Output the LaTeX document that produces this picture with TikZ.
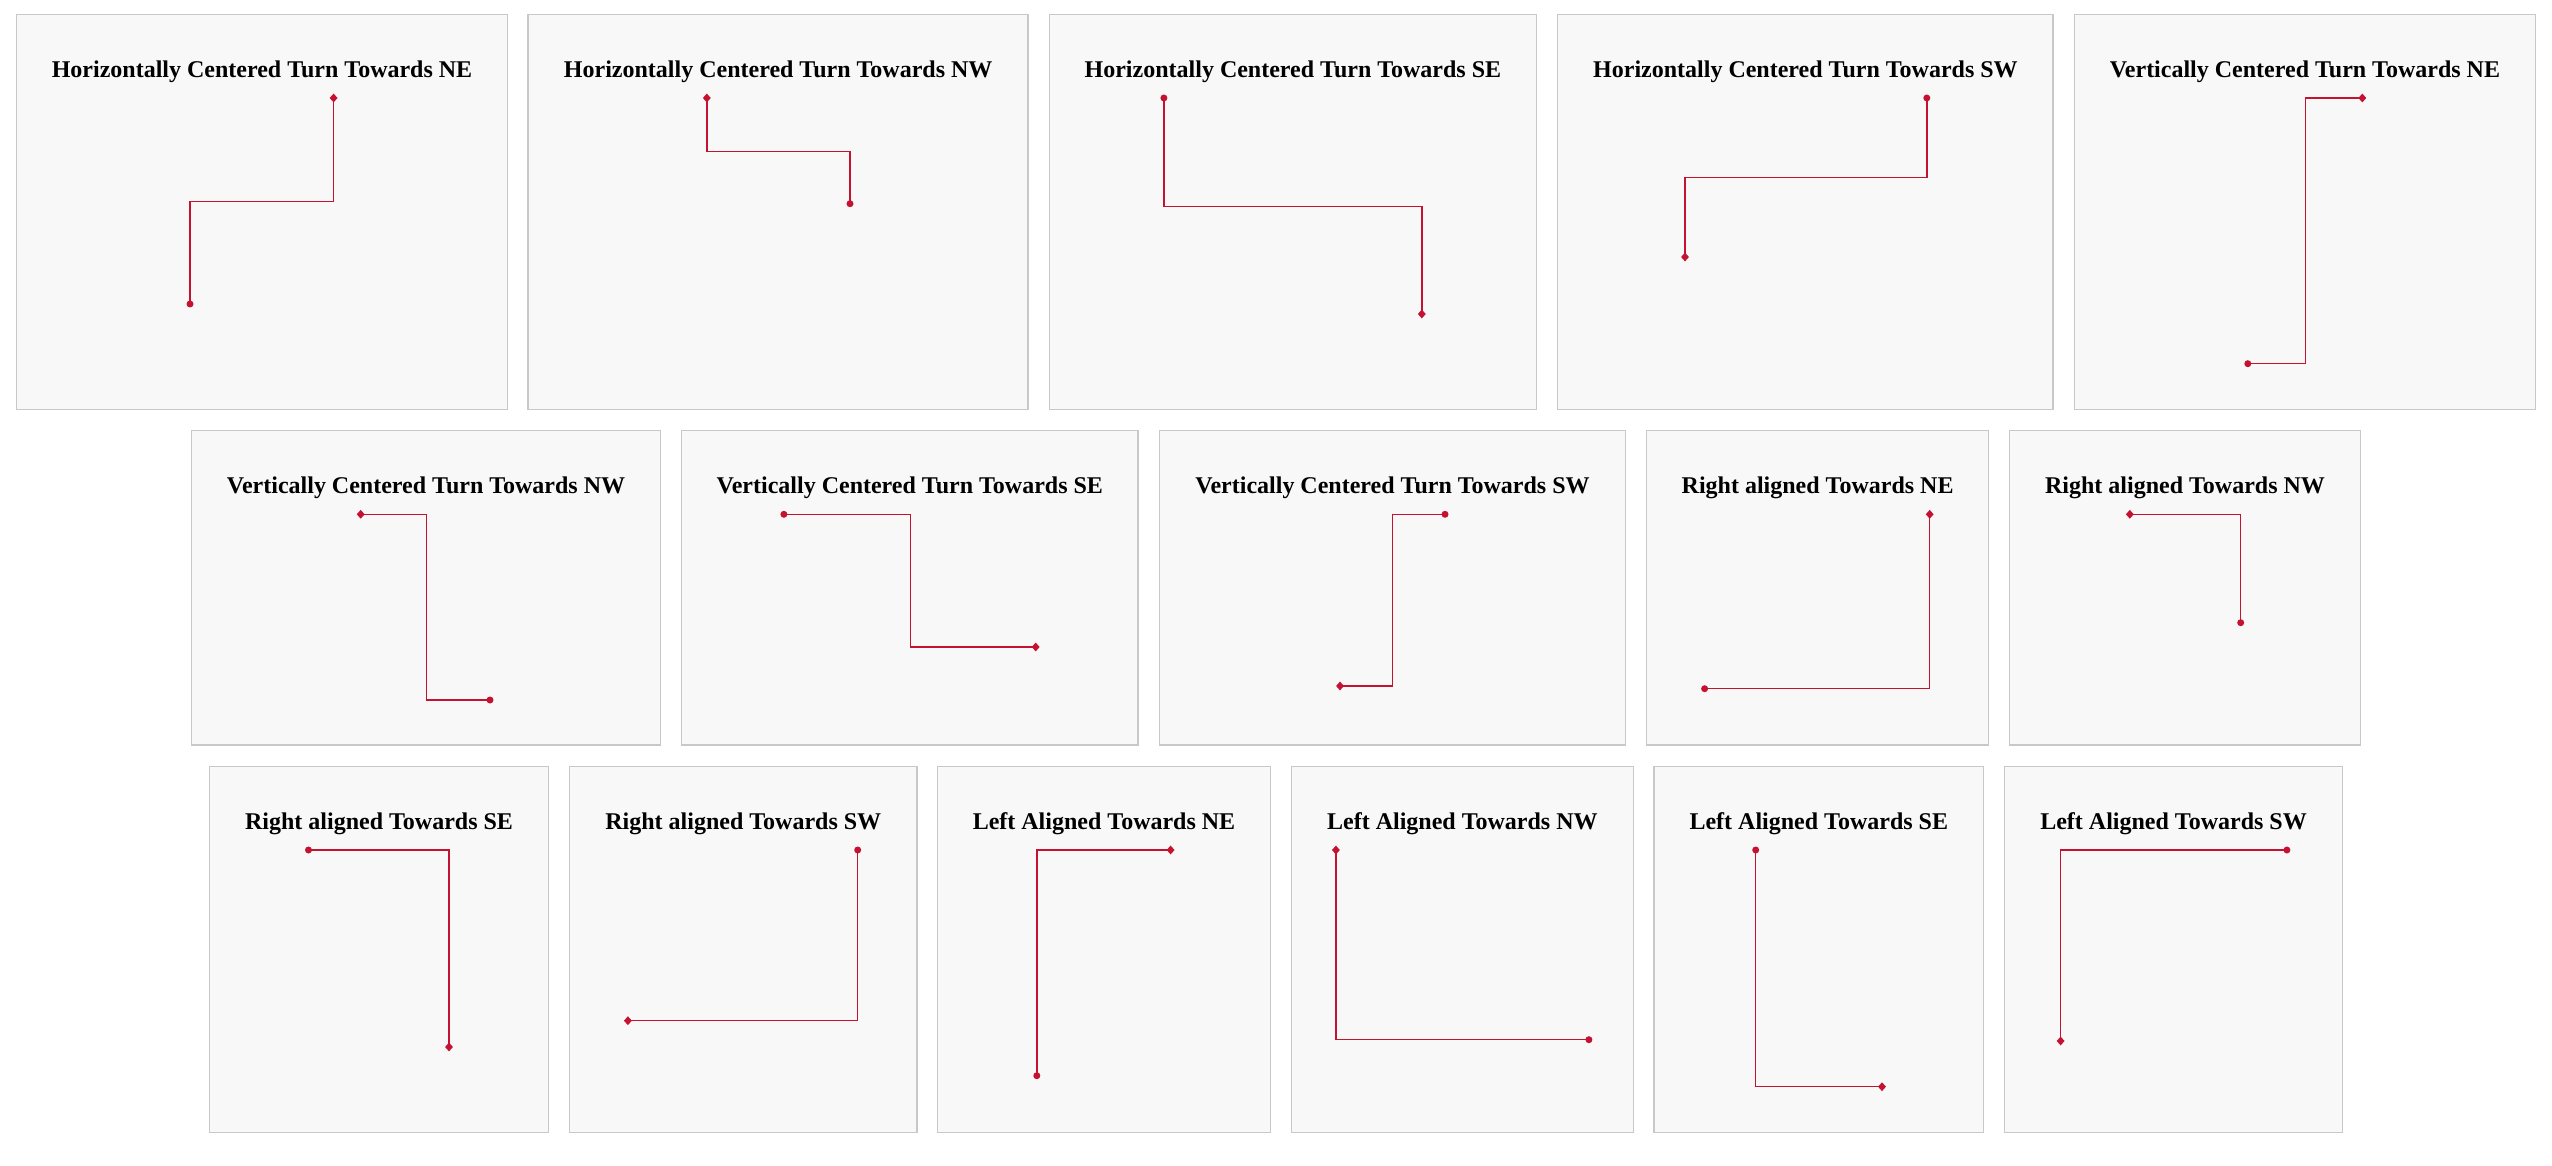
\documentclass[tikz,border=0pt]{standalone}
\usepackage{fontspec}
\setmainfont{Liberation Serif}
\usetikzlibrary{shapes.geometric}
\definecolor{panelfill}{HTML}{F8F8F8}
\definecolor{panelline}{HTML}{C8C8C8}
\definecolor{route}{HTML}{C41230}
\begin{document}
\begin{tikzpicture}[x=1pt,y=-1pt,
  panel/.style={draw=panelline, fill=panelfill, line width=1.5pt},
  ttl/.style={font=\fontsize{24}{28}\selectfont\bfseries, text=black, inner sep=0pt, anchor=base},
  wire/.style={draw=route, line width=1.4pt},
  startdot/.style={circle, fill=route, minimum size=7pt, inner sep=0pt},
  enddia/.style={diamond, fill=route, minimum width=8pt, minimum height=9pt, inner sep=0pt}]
\useasboundingbox (0,0) rectangle (2552,1166);
\fill[white] (0,0) rectangle (2552,1166);

% ---------- Row 1 ----------
\draw[panel] (16.4,14.3) rectangle (507.5,409.3);
\node[ttl] (t1) at (262,77.3) {Horizontally Centered Turn Towards NE};
\node[startdot] (s1) at (190,304) {};
\node[enddia] (e1) at (333.6,98) {};
\coordinate (a1) at (190,201.3); \coordinate (b1) at (333.6,201.3);
\draw[wire] (s1.center) -- (a1) -- (b1) -- (e1.center);

\draw[panel] (528.2,14.3) rectangle (1028.2,409.3);
\node[ttl] (t2) at (778.2,77.3) {Horizontally Centered Turn Towards NW};
\node[startdot] (s2) at (850,203.7) {};
\node[enddia] (e2) at (706.8,98) {};
\coordinate (a2) at (850,151.3); \coordinate (b2) at (706.8,151.3);
\draw[wire] (s2.center) -- (a2) -- (b2) -- (e2.center);

\draw[panel] (1049.3,14.3) rectangle (1536.4,409.3);
\node[ttl] (t3) at (1292.9,77.3) {Horizontally Centered Turn Towards SE};
\node[startdot] (s3) at (1163.9,98) {};
\node[enddia] (e3) at (1421.8,314) {};
\coordinate (a3) at (1163.9,206.3); \coordinate (b3) at (1421.8,206.3);
\draw[wire] (s3.center) -- (a3) -- (b3) -- (e3.center);

\draw[panel] (1557.5,14.3) rectangle (2053.2,409.3);
\node[ttl] (t4) at (1805.4,77.3) {Horizontally Centered Turn Towards SW};
\node[startdot] (s4) at (1926.8,98) {};
\node[enddia] (e4) at (1685,257) {};
\coordinate (a4) at (1926.8,177.3); \coordinate (b4) at (1685,177.3);
\draw[wire] (s4.center) -- (a4) -- (b4) -- (e4.center);

\draw[panel] (2074.3,14.3) rectangle (2535.5,409.3);
\node[ttl] (t5) at (2304.9,77.3) {Vertically Centered Turn Towards NE};
\node[startdot] (s5) at (2247.8,363.7) {};
\node[enddia] (e5) at (2362.3,98) {};
\coordinate (a5) at (2305.2,363.7); \coordinate (b5) at (2305.2,98);
\draw[wire] (s5.center) -- (a5) -- (b5) -- (e5.center);

% ---------- Row 2 ----------
\draw[panel] (191.4,430.3) rectangle (660.7,745);
\node[ttl] (t6) at (426,493.3) {Vertically Centered Turn Towards NW};
\node[startdot] (s6) at (490,700) {};
\node[enddia] (e6) at (360.7,514.3) {};
\coordinate (a6) at (426.4,700); \coordinate (b6) at (426.4,514.3);
\draw[wire] (s6.center) -- (a6) -- (b6) -- (e6.center);

\draw[panel] (681.4,430.3) rectangle (1138.2,745);
\node[ttl] (t7) at (909.8,493.3) {Vertically Centered Turn Towards SE};
\node[startdot] (s7) at (783.9,514.3) {};
\node[enddia] (e7) at (1035.7,647) {};
\coordinate (a7) at (910.4,514.3); \coordinate (b7) at (910.4,647);
\draw[wire] (s7.center) -- (a7) -- (b7) -- (e7.center);

\draw[panel] (1159.3,430.3) rectangle (1625.7,745);
\node[ttl] (t8) at (1392.5,493.3) {Vertically Centered Turn Towards SW};
\node[startdot] (s8) at (1445,514.3) {};
\node[enddia] (e8) at (1340,686) {};
\coordinate (a8) at (1392.5,514.3); \coordinate (b8) at (1392.5,686);
\draw[wire] (s8.center) -- (a8) -- (b8) -- (e8.center);

\draw[panel] (1646.5,430.3) rectangle (1988.7,745);
\node[ttl] (t9) at (1817.6,493.3) {Right aligned Towards NE};
\node[startdot] (s9) at (1704.6,688.7) {};
\node[enddia] (e9) at (1929.7,514.3) {};
\coordinate (a9) at (1929.7,688.7);
\draw[wire] (s9.center) -- (a9) -- (e9.center);

\draw[panel] (2009.4,430.3) rectangle (2360.5,745);
\node[ttl] (t10) at (2185,493.3) {Right aligned Towards NW};
\node[startdot] (s10) at (2240.7,622.7) {};
\node[enddia] (e10) at (2129.8,514.3) {};
\coordinate (a10) at (2240.7,514.3);
\draw[wire] (s10.center) -- (a10) -- (e10.center);

% ---------- Row 3 ----------
\draw[panel] (209.6,766.7) rectangle (548.4,1132.3);
\node[ttl] (t11) at (379,829.5) {Right aligned Towards SE};
\node[startdot] (s11) at (308.5,850) {};
\node[enddia] (e11) at (449,1047) {};
\coordinate (a11) at (449,850);
\draw[wire] (s11.center) -- (a11) -- (e11.center);

\draw[panel] (569.7,766.7) rectangle (916.8,1132.3);
\node[ttl] (t12) at (743.3,829.5) {Right aligned Towards SW};
\node[startdot] (s12) at (857.7,850) {};
\node[enddia] (e12) at (627.9,1020.7) {};
\coordinate (a12) at (857.7,1020.7);
\draw[wire] (s12.center) -- (a12) -- (e12.center);

\draw[panel] (937.5,766.7) rectangle (1270.5,1132.3);
\node[ttl] (t13) at (1104,829.5) {Left Aligned Towards NE};
\node[startdot] (s13) at (1036.8,1075.7) {};
\node[enddia] (e13) at (1170.6,850) {};
\coordinate (a13) at (1036.8,850);
\draw[wire] (s13.center) -- (a13) -- (e13.center);

\draw[panel] (1291.3,766.7) rectangle (1633.5,1132.3);
\node[ttl] (t14) at (1462.4,829.5) {Left Aligned Towards NW};
\node[startdot] (s14) at (1588.9,1039.7) {};
\node[enddia] (e14) at (1335.9,850) {};
\coordinate (a14) at (1335.9,1039.7);
\draw[wire] (s14.center) -- (a14) -- (e14.center);

\draw[panel] (1654.2,766.7) rectangle (1983.4,1132.3);
\node[ttl] (t15) at (1818.8,829.5) {Left Aligned Towards SE};
\node[startdot] (s15) at (1755.7,850) {};
\node[enddia] (e15) at (1882,1086.7) {};
\coordinate (a15) at (1755.7,1086.7);
\draw[wire] (s15.center) -- (a15) -- (e15.center);

\draw[panel] (2004.5,766.7) rectangle (2342.5,1132.3);
\node[ttl] (t16) at (2173.5,829.5) {Left Aligned Towards SW};
\node[startdot] (s16) at (2286.9,850) {};
\node[enddia] (e16) at (2060.6,1041) {};
\coordinate (a16) at (2060.6,850);
\draw[wire] (s16.center) -- (a16) -- (e16.center);
\end{tikzpicture}
\end{document}
